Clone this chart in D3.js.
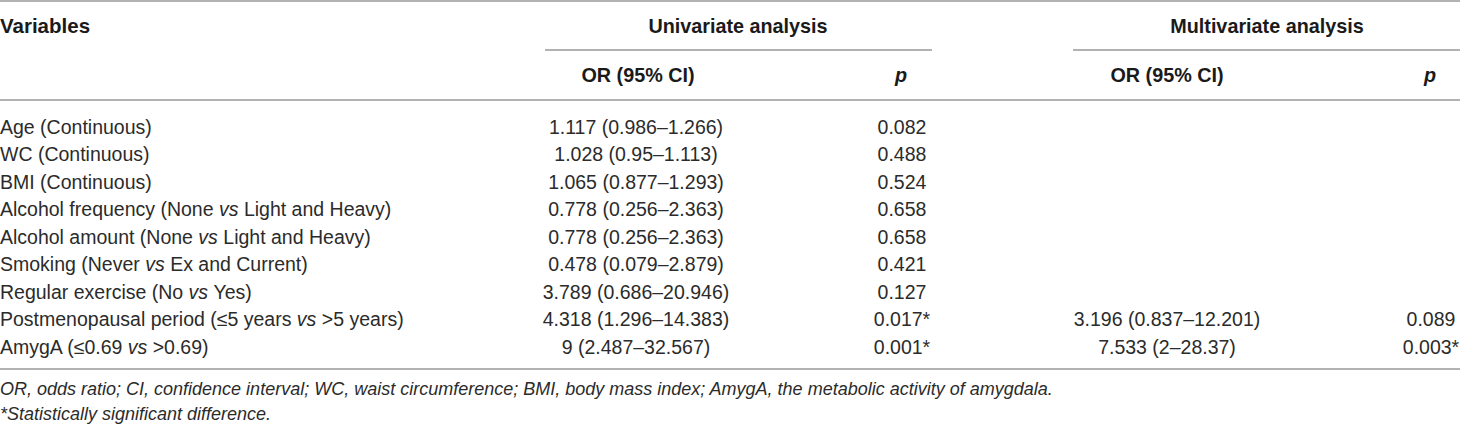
<!DOCTYPE html>
<html>
<head>
<meta charset="utf-8">
<script src="https://cdn.jsdelivr.net/npm/d3@7"></script>
<style>
  body { margin: 0; background: #fff; }
  svg { display: block; font-family: "Liberation Sans", Arial, sans-serif; }
</style>
</head>
<body>
<svg id="chart"></svg>
<script>
// table content
var variables = [
  "Age (Continuous)",
  "WC (Continuous)",
  "BMI (Continuous)",
  "Alcohol frequency (None vs Light and Heavy)",
  "Alcohol amount (None vs Light and Heavy)",
  "Smoking (Never vs Ex and Current)",
  "Regular exercise (No vs Yes)",
  "Postmenopausal period (\u22645 years vs >5 years)",
  "AmygA (\u22640.69 vs >0.69)"
]
var uniOR = ["1.117 (0.986\u20131.266)", "1.028 (0.95\u20131.113)", "1.065 (0.877\u20131.293)",
  "0.778 (0.256\u20132.363)", "0.778 (0.256\u20132.363)", "0.478 (0.079\u20132.879)",
  "3.789 (0.686\u201320.946)", "4.318 (1.296\u201314.383)", "9 (2.487\u201332.567)"]
var uniP = ["0.082", "0.488", "0.524", "0.658", "0.658", "0.421", "0.127", "0.017*", "0.001*"]
var multiOR = ["", "", "", "", "", "", "", "3.196 (0.837\u201312.201)", "7.533 (2\u201328.37)"]
var multiP = ["", "", "", "", "", "", "", "0.089", "0.003*"]
var groupHeaders = ["Univariate analysis", "Multivariate analysis"]
var footnotes = [
  "OR, odds ratio; CI, confidence interval; WC, waist circumference; BMI, body mass index; AmygA, the metabolic activity of amygdala.",
  "*Statistically significant difference."
]

const width = 1460
const height = 426
const lineColor = "#999"
const textColor = "#2b2b2b"

const svg = d3.select("#chart")
  .attr("width", width)
  .attr("height", height)

// row positions
var y = d3.scalePoint()
  .domain(d3.range(variables.length))
  .range([127, 347])

// column centres (variables are left aligned at 0)
var col = {var: 0, uniOR: 636, uniP: 902, multiOR: 1167, multiP: 1431}

// rules
function hline(x1, x2, yy) {
  svg.append("line")
    .attr("x1", x1).attr("x2", x2)
    .attr("y1", yy).attr("y2", yy)
    .attr("stroke", lineColor)
    .attr("stroke-width", 1.5)
}
hline(0, width, 1)
hline(545, 932, 50)
hline(1073, width, 50)
hline(0, width, 100)
hline(0, width, 369)

// headers
var header = svg.append("g")
  .style("font-weight", "bold")
  .style("font-size", "19.8px")
  .style("fill", "#1a1a1a")

header.append("text").attr("x", 0).attr("y", 26).attr("dy", "0.35em")
  .style("font-size", "20.5px").text("Variables")
header.selectAll(".grp")
  .data(groupHeaders)
  .enter()
  .append("text")
  .attr("class", "grp")
  .attr("x", function(d, i) { return i == 0 ? 738 : 1267 })
  .attr("y", 26)
  .attr("dy", "0.35em")
  .attr("text-anchor", "middle")
  .text(function(d) { return d })

header.append("text").attr("x", 638).attr("y", 75).attr("dy", "0.35em")
  .attr("text-anchor", "middle").text("OR (95% CI)")
header.append("text").attr("x", col.multiOR).attr("y", 75).attr("dy", "0.35em")
  .attr("text-anchor", "middle").text("OR (95% CI)")
header.append("text").attr("x", 901).attr("y", 75).attr("dy", "0.35em")
  .attr("text-anchor", "middle").style("font-style", "italic").text("p")
header.append("text").attr("x", 1430).attr("y", 75).attr("dy", "0.35em")
  .attr("text-anchor", "middle").style("font-style", "italic").text("p")

// body rows
var body = svg.append("g")
  .style("font-size", "19.5px")
  .style("fill", textColor)

var rows = body.selectAll(".row")
  .data(d3.range(variables.length))
  .enter()
  .append("g")
  .attr("class", "row")
  .attr("transform", function(i) { return "translate(0," + y(i) + ")" })

// variable label with italic "vs"
rows.append("text")
  .attr("x", col.var)
  .attr("dy", "0.35em")
  .each(function(i) {
    var parts = variables[i].split(" vs ")
    var t = d3.select(this)
    t.append("tspan").text(parts[0])
    if (parts.length > 1) {
      t.append("tspan").style("font-style", "italic").text(" vs ")
      t.append("tspan").text(parts[1])
    }
  })

rows.append("text")
  .attr("x", col.uniOR).attr("dy", "0.35em")
  .attr("text-anchor", "middle")
  .text(function(i) { return uniOR[i] })

rows.append("text")
  .attr("x", col.uniP).attr("dy", "0.35em")
  .attr("text-anchor", "middle")
  .text(function(i) { return uniP[i] })

rows.append("text")
  .attr("x", col.multiOR).attr("dy", "0.35em")
  .attr("text-anchor", "middle")
  .text(function(i) { return multiOR[i] })

rows.append("text")
  .attr("x", col.multiP).attr("dy", "0.35em")
  .attr("text-anchor", "middle")
  .text(function(i) { return multiP[i] })

// footnotes
svg.append("g")
  .style("font-size", "18px")
  .style("font-style", "italic")
  .style("fill", textColor)
  .selectAll("text")
  .data(footnotes)
  .enter()
  .append("text")
  .attr("x", 0)
  .attr("y", function(d, i) { return 389 + i * 25 })
  .attr("dy", "0.35em")
  .text(function(d) { return d })
</script>
</body>
</html>
